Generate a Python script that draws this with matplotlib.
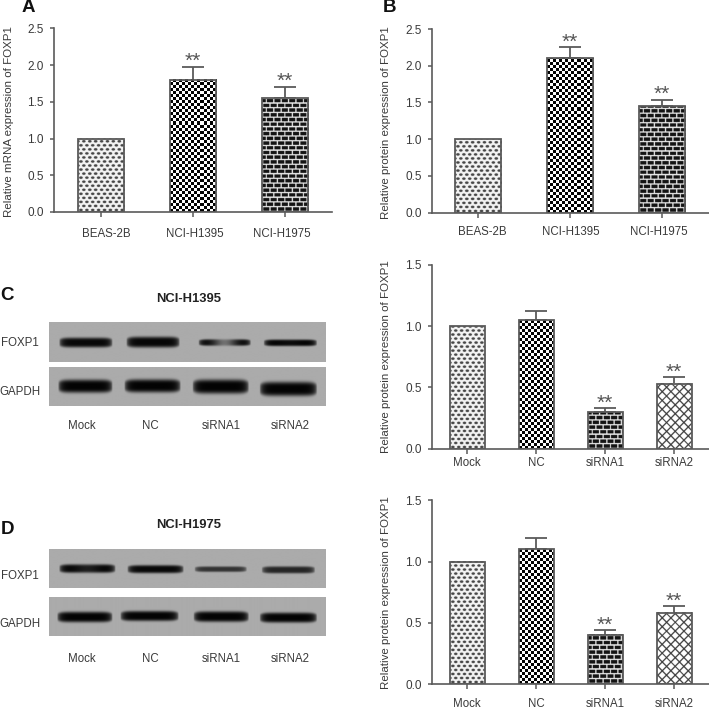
import numpy as np
import matplotlib
matplotlib.use("Agg")
import matplotlib.pyplot as plt
from matplotlib.transforms import ScaledTranslation

plt.rcParams['font.family'] = ['Liberation Sans', 'DejaVu Sans']

W, H = 709, 708
INK = '#3a3a3a'
LINE = '#5a5a5a'

# ---- bar data ----
cats_ab = ['BEAS-2B', 'NCI-H1395', 'NCI-H1975']
cats_cd = ['Mock', 'NC', 'siRNA1', 'siRNA2']
a_vals = [1.0, 1.8, 1.55]
a_errs = [0.0, 0.18, 0.156]
a_stars = ['', '**', '**']
b_vals = [1.0, 2.1, 1.45]
b_errs = [0.0, 0.155, 0.09]
b_stars = ['', '**', '**']
c_vals = [1.0, 1.05, 0.30, 0.53]
c_errs = [0.0, 0.072, 0.03, 0.054]
c_stars = ['', '', '**', '**']
d_vals = [1.0, 1.1, 0.40, 0.58]
d_errs = [0.0, 0.09, 0.04, 0.059]
d_stars = ['', '', '**', '**']
ab_patterns = ['dots', 'checker', 'brick']
cd_patterns = ['dots', 'checker', 'brick', 'cross']

# ---- blot band data (image pixels) ----
blot_x = (48.7, 325.3)
blot_rows_y = [(322.7, 362.0), (367.3, 406.0), (549.3, 588.0), (596.7, 635.7)]
band_x0 = [[59, 126, 198, 263], [58, 124, 192, 259], [59, 127, 194, 261], [57, 120, 193, 259]]
band_x1 = [[112, 179, 250, 316], [112, 180, 248, 316], [115, 183, 246, 314], [112, 178, 248, 316]]
band_yc = [[342.7, 342.3, 342.7, 343.0], [386.3, 386.0, 386.7, 389.0],
           [568.7, 569.3, 569.3, 570.0], [616.7, 615.7, 616.3, 617.3]]
band_th = [[9.5, 10.5, 6.5, 6.5], [13, 13, 14, 14], [8.5, 8.0, 5.5, 7.0], [10.5, 10, 10.5, 10]]
band_str = [[0.97, 0.98, 1.0, 1.0], [1.0, 1.0, 1.0, 1.0], [1.0, 0.97, 0.72, 0.8], [1.0, 1.0, 1.0, 1.0]]
band_dip = [[0, 0, 0.65, 0.05], [0, 0, 0, 0], [0.15, 0, 0, 0], [0, 0, 0, 0]]


def px_axes(fig, l, t, r, b):
    return fig.add_axes([l / W, 1 - b / H, (r - l) / W, (b - t) / H])


def pattern(kind, w, h, ss=4):
    nx, ny = max(int(w * ss), 1), max(int(h * ss), 1)
    x, y = np.meshgrid((np.arange(nx) + .5) / ss, (np.arange(ny) + .5) / ss)
    if kind == 'checker':
        p = 3.0
        im = ((np.floor(x / p) + np.floor(y / p)) % 2).astype(float)
        return im * 0.98 + 0.01
    if kind == 'brick':
        py, px_ = 4.7, 7.3
        row = np.floor(y / py)
        horiz = (y % py) < 1.3
        vert = ((x + (row % 2) * px_ / 2) % px_) < 1.2
        return np.where(horiz | vert, 0.92, 0.08)
    if kind == 'cross':
        p, t = 8.7, 1.7
        m = (((x + y) % p) < t) | (((x - y) % p) < t)
        return np.where(m, 0.22, 1.0)
    py, px_ = 4.0, 5.8
    row = np.floor(y / py)
    dx = ((x + (row % 2) * px_ / 2) % px_) - px_ / 2
    dy = (y % py) - py / 2
    return np.where((dx / 1.8) ** 2 + (dy / 1.25) ** 2 < 1, 0.28, 0.95)


def bar_panel(fig, box, ymax, yticks, ticklabels, vals, errs, stars, pats, centers_px, width_px,
              ylabel, ylabel_xy, label_pad_px, label_dx, star_gap):
    l, t, r, b = box
    sp = centers_px[1] - centers_px[0]
    ax = px_axes(fig, l, t, r, b)
    x = np.arange(len(vals))
    xlim = ((l - centers_px[0]) / sp, (r - centers_px[0]) / sp)
    bars = ax.bar(x, vals, width_px / sp, facecolor='none', edgecolor=LINE, linewidth=1.3, zorder=3)
    px_per_y = (b - t) / ymax
    for rect, kind in zip(bars, pats):
        x0, y0 = rect.get_x(), rect.get_y()
        w, hh = rect.get_width(), rect.get_height()
        im = pattern(kind, w * sp, hh * px_per_y)
        interp = 'nearest' if kind == 'checker' else 'antialiased'
        ax.imshow(im, extent=(x0, x0 + w, y0 + hh, y0), origin='upper', cmap='gray', vmin=0, vmax=1,
                  aspect='auto', interpolation=interp, zorder=2)
    idx = [i for i, e in enumerate(errs) if e > 0]
    ax.errorbar([x[i] for i in idx], [vals[i] for i in idx],
                yerr=[[0] * len(idx), [errs[i] for i in idx]], fmt='none', ecolor=LINE,
                elinewidth=1.3, capsize=8.2, capthick=1.3, zorder=1)
    for i, s in enumerate(stars):
        if s:
            ax.annotate(s, (x[i], vals[i] + errs[i]), xytext=(0, star_gap), textcoords='offset points',
                        ha='center', va='center', fontsize=15, color='#555555', zorder=4)
    ax.set_xlim(*xlim)
    ax.set_ylim(0, ymax)
    ax.set_yticks(yticks)
    ax.set_yticklabels(ticklabels)
    ax.set_xticks(x)
    ax.set_xticklabels(cats_ab if len(vals) == 3 else cats_cd)
    for s in ('top', 'right'):
        ax.spines[s].set_visible(False)
    for s in ('left', 'bottom'):
        ax.spines[s].set_color(LINE)
        ax.spines[s].set_linewidth(1.2)
    ax.tick_params(axis='y', length=3.2, width=1.1, color=LINE, labelsize=8.5, labelcolor=INK, pad=4.2)
    ax.tick_params(axis='x', length=3.4, width=1.1, color=LINE, labelsize=8.3, labelcolor=INK,
                   pad=label_pad_px * 72 / 100)
    for lab, dx in zip(ax.get_xticklabels(), label_dx):
        lab.set_transform(lab.get_transform() + ScaledTranslation(dx / 100, 0, fig.dpi_scale_trans))
    fig.text(ylabel_xy[0] / W, 1 - ylabel_xy[1] / H, ylabel, rotation=90, ha='center', va='center',
             fontsize=8.25, color=INK)
    return ax


def blot_panel(ax):
    bg = 0.67
    for r, (y0, y1) in enumerate(blot_rows_y):
        ss = 3
        nx, ny = int((blot_x[1] - blot_x[0]) * ss), int((y1 - y0) * ss)
        xs = blot_x[0] + (np.arange(nx) + .5) / ss
        ys = y0 + (np.arange(ny) + .5) / ss
        X, Y = np.meshgrid(xs, ys)
        img = np.full_like(X, bg)
        for j in range(4):
            x0, x1 = band_x0[r][j], band_x1[r][j]
            xc, hw = (x0 + x1) / 2, (x1 - x0) / 2
            taper = np.clip(1 - ((X - xc) / hw) ** 8, 0, 1)
            th = band_th[r][j] * (0.7 + 0.3 * taper) / 2
            m = np.exp(-((Y - band_yc[r][j]) / np.maximum(th, .5)) ** 4) * np.sqrt(taper)
            m = m * band_str[r][j] * (1 - band_dip[r][j] * np.exp(-((X - xc) / (0.22 * hw * 2)) ** 2))
            img = img * (1 - 0.98 * m)
        ax.imshow(img, extent=(blot_x[0], blot_x[1], y1, y0), origin='upper', cmap='gray', vmin=0, vmax=1,
                  aspect='auto', interpolation='bilinear', zorder=1)


fig = plt.figure(figsize=(W / 100, H / 100), dpi=100, facecolor='white')

bg_ax = fig.add_axes([0, 0, 1, 1], zorder=0)
blot_panel(bg_ax)
bg_ax.set_xlim(0, W)
bg_ax.set_ylim(H, 0)
bg_ax.axis('off')

yt_ab = [0, .5, 1, 1.5, 2, 2.5]
yl_ab = ['0.0', '0.5', '1.0', '1.5', '2.0', '2.5']
yt_cd = [0, .5, 1, 1.5]
yl_cd = ['0.0', '0.5', '1.0', '1.5']
bar_panel(fig, (54, 28.3, 332, 212), 2.5, yt_ab, yl_ab, a_vals, a_errs, a_stars, ab_patterns,
          [101, 193, 285], 46.3, 'Relative mRNA expression of FOXP1', (9, 122), 11, [5, 1.7, -3], 3.5)
bar_panel(fig, (432, 29, 709, 212.7), 2.5, yt_ab, yl_ab, b_vals, b_errs, b_stars, ab_patterns,
          [478, 570, 662], 46.3, 'Relative protein expression of FOXP1', (385.5, 123), 9, [4, 1, -3.3], 3.5)
bar_panel(fig, (432, 264.7, 709, 448.7), 1.5, yt_cd, yl_cd, c_vals, c_errs, c_stars, cd_patterns,
          [467, 536, 605, 673.5], 35, 'Relative protein expression of FOXP1', (385.5, 357), 4, [0, 0, 0, 0], 3.5)
bar_panel(fig, (432, 500.3, 709, 684.3), 1.5, yt_cd, yl_cd, d_vals, d_errs, d_stars, cd_patterns,
          [467, 536, 605, 673.5], 35, 'Relative protein expression of FOXP1', (385.5, 593), 8.5, [0, 0, 0, 0], 3.5)


def txt(x, y, s, **k):
    k.setdefault('ha', 'center')
    k.setdefault('va', 'center')
    k.setdefault('color', INK)
    k.setdefault('fontsize', 8.3)
    fig.text(x / W, 1 - y / H, s, **k)


for x, y, s in [(28, 7, 'A'), (390, 7, 'B'), (7, 295.5, 'C'), (7.5, 529.5, 'D')]:
    txt(x, y, s, fontsize=13.5, fontweight='bold', color='#111111')
txt(189, 298.7, 'NCI-H1395', fontsize=9.4, fontweight='bold', color='#222222')
txt(189, 524.7, 'NCI-H1975', fontsize=9.4, fontweight='bold', color='#222222')
for y, s in [(343, 'FOXP1'), (391.7, 'GAPDH'), (576, 'FOXP1'), (624, 'GAPDH')]:
    txt(20, y, s)
for y in (426, 659):
    for x, s in zip([82, 150.7, 221, 290], cats_cd):
        txt(x, y, s)

fig.savefig('out.png', dpi=100, facecolor='white')
